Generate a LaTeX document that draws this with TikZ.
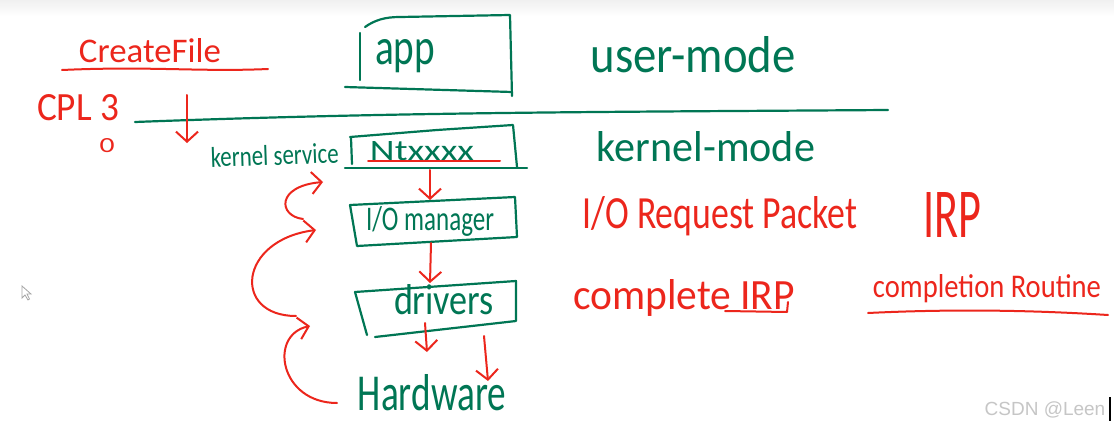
\documentclass[tikz,border=0pt]{standalone}
\usepackage{fontspec}
\setmainfont{Carlito}
\setsansfont{Liberation Sans}
\usetikzlibrary{arrows.meta}
\definecolor{hwgreen}{RGB}{0,118,84}
\definecolor{hwred}{RGB}{236,38,28}
\newcommand{\hwtext}[3]{\resizebox{#1pt}{#2pt}{#3}}
\begin{document}
\begin{tikzpicture}[x=1pt,y=-1pt,
  gline/.style={draw=hwgreen,line width=2.2pt,line cap=round,line join=round},
  rline/.style={draw=hwred,line width=2pt,line cap=round,line join=round},
  rarrow/.style={rline,-{Straight Barb[length=10pt,width=22pt,line width=2pt]}},
  gtext/.style={text=hwgreen,inner sep=0pt,anchor=base},
  rtext/.style={text=hwred,inner sep=0pt,anchor=base}]
\useasboundingbox (0,0) rectangle (1114,428);
\fill[white] (0,0) rectangle (1114,428);
\shade[top color=gray!12,bottom color=white] (0,0) rectangle (1114,16);

% user / kernel divider
\path[gline] (135,122) .. controls (400,112) and (600,112) .. (888,110);

% left column labels
\node[rtext] (createfile) at (150,63) {\hwtext{142}{24}{CreateFile}};
\path[rline] (62,70) .. controls (150,66) and (200,72) .. (268,69);
\node[rtext] (cpl) at (78,120) {\hwtext{82}{26}{CPL 3}};
\node[rtext] (zero) at (107,152) {\hwtext{15}{14}{0}};
\coordinate (callstart) at (187,95);
\coordinate (callend) at (187,143);
\draw[rarrow] (callstart) -- (callend);

% app box
\node[gtext] (app) at (405,64) {\hwtext{60}{25}{app}};
\path[gline] (365,27) .. controls (375,20) and (385,17) .. (400,17) -- (510,15) -- (512,96);
\path[gline] (345,87) -- (512,92);
\path[gline] (360,33) -- (360,80);
\node[gtext] (user) at (693,73) {\hwtext{205}{36}{user-mode}};

% Nt box
\node[gtext,rotate=2] (kservice) at (275,165) {\hwtext{128}{20}{kernel service}};
\node[gtext] (nt) at (422,160) {\hwtext{104}{19}{Ntxxxx}};
\path[gline] (350,137) -- (437,130) -- (513,125) -- (517,167);
\path[gline] (345,168) -- (527,168);
\path[gline] (351,138) -- (352,164);
\path[rline] (368,161) -- (500,161);
\node[gtext] (kernel) at (706,161) {\hwtext{218}{30}{kernel-mode}};

% I/O manager box
\node[gtext] (iom) at (430,230) {\hwtext{128}{24}{I/O manager}};
\path[gline] (350,205) -- (515,197) -- (517,237) -- (357,246) -- cycle;
\node[rtext] (irpname) at (720,228) {\hwtext{275}{32}{I/O Request Packet}};
\node[rtext] (irp) at (952,237) {\hwtext{58}{45}{IRP}};

% drivers box
\node[gtext] (drv) at (444,314) {\hwtext{100}{30}{drivers}};
\path[gline] (355,292) -- (516,281) -- (516,321) -- (375,337);
\path[gline] (355,292) -- (367,335);
\node[rtext] (complete) at (684,309) {\hwtext{222}{30}{complete IRP}};
\path[rline] (725,311) -- (787,312) -- (788,302);
\node[rtext] (routine) at (987,297) {\hwtext{228}{23}{completion Routine}};
\path[rline] (868,313) .. controls (950,309) and (1030,310) .. (1108,315);

% hardware
\node[gtext] (hw) at (432,410) {\hwtext{148}{36}{Hardware}};

% downward request arrows
\coordinate (a1s) at (430,170);
\coordinate (a1e) at (430,200);
\coordinate (a2s) at (431,243);
\coordinate (a2e) at (430,283);
\coordinate (a3s) at (425,323);
\coordinate (a3e) at (427,352);
\coordinate (a4s) at (484,336);
\coordinate (a4e) at (488,381);
\draw[rarrow] (a1s) -- (a1e);
\draw[rarrow] (a2s) -- (a2e);
\draw[rarrow] (a3s) -- (a3e);
\draw[rarrow] (a4s) -- (a4e);

% completion arcs
\coordinate (c1s) at (303,219);
\coordinate (c1e) at (323,182);
\coordinate (c2s) at (296,316);
\coordinate (c2e) at (316,230);
\coordinate (c3s) at (337,403);
\coordinate (c3e) at (310,326);
\draw[rarrow] (c1s) .. controls (278,216) and (276,186) .. (c1e);
\draw[rarrow] (c2s) .. controls (232,316) and (238,240) .. (c2e);
\draw[rarrow] (c3s) .. controls (280,403) and (268,335) .. (c3e);

% mouse cursor
\path[draw=gray!70,fill=white,line width=0.8pt] (22,286) -- (22,298) -- (25,295) -- (28,300) -- (29.5,299) -- (27,294) -- (31,294) -- cycle;

% watermark
\node[text=gray!45,inner sep=0pt,anchor=base] (mark) at (1045,415) {\sffamily\fontsize{19}{19}\selectfont CSDN @Leen};
\path[draw=black,line width=1.2pt] (1110,397) -- (1110,421);
\end{tikzpicture}
\end{document}
